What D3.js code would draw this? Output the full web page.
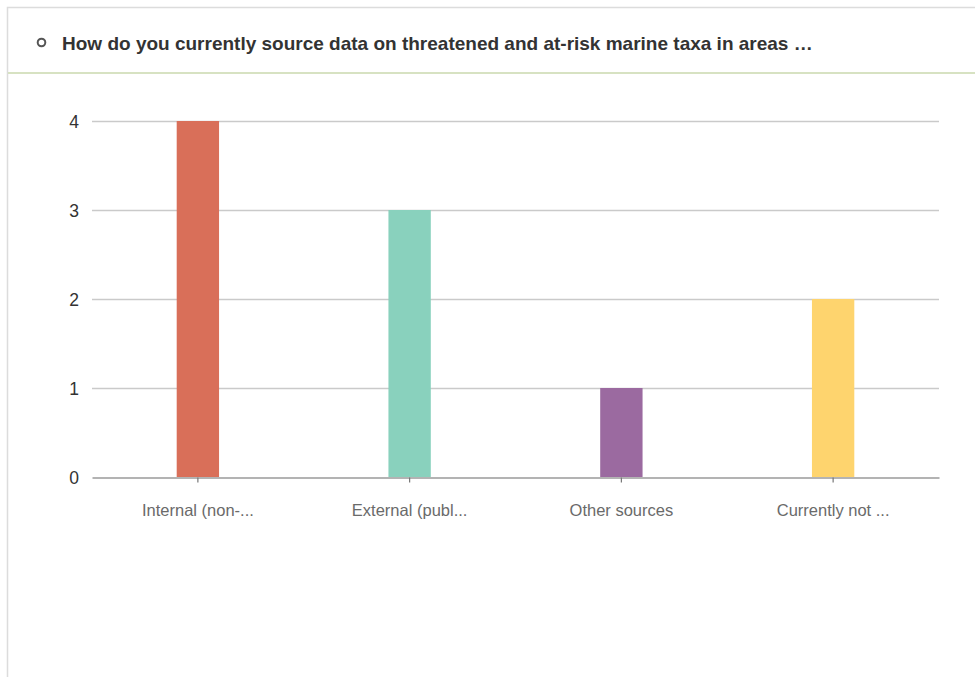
<!DOCTYPE html>
<html>
<head>
<meta charset="utf-8">
<script src="https://cdn.jsdelivr.net/npm/d3@7"></script>
<style>
  html, body { margin: 0; padding: 0; background: #fff; }
  svg { display: block; }
</style>
</head>
<body>
<svg id="chart" width="975" height="677"></svg>
<script>
// Survey responses: how threatened / at-risk marine taxa data is sourced
const title = "How do you currently source data on threatened and at-risk marine taxa in areas \u2026";
const categories = ["Internal (non-...", "External (publ...", "Other sources", "Currently not ..."];
const counts = [4, 3, 1, 2];
const colors = ["#d96f59", "#89d1bd", "#9b6aa0", "#fed46e"];
const yTicks = [0, 1, 2, 3, 4];

const svg = d3.select("#chart");
const W = 975, H = 677;
const FONT = "Liberation Sans, Arial, sans-serif";

// Panel frame
svg.append("path")
  .attr("d", `M7.5,${H} V7.5 H${W}`)
  .attr("fill", "none")
  .attr("stroke", "#dcdcdc")
  .attr("stroke-width", 1.5);

// Header separator
svg.append("line")
  .attr("x1", 8).attr("x2", W)
  .attr("y1", 73).attr("y2", 73)
  .attr("stroke", "#d7e2c2")
  .attr("stroke-width", 2);

// Header icon and title
svg.append("circle")
  .attr("cx", 41.5).attr("cy", 42.5).attr("r", 3.8)
  .attr("fill", "none")
  .attr("stroke", "#555")
  .attr("stroke-width", 2);

svg.append("text")
  .attr("x", 62).attr("y", 49.5)
  .attr("font-family", FONT)
  .attr("font-weight", "bold")
  .attr("font-size", 19)
  .attr("fill", "#333")
  .text(title);

// Scales
const x = d3.scaleBand()
  .domain(categories)
  .range([92, 939]);
const y = d3.scaleLinear()
  .domain([0, 4])
  .range([477, 121]);

// Horizontal gridlines
svg.append("g")
  .selectAll("line")
  .data(yTicks.filter(d => d > 0))
  .join("line")
  .attr("x1", 92).attr("x2", 939)
  .attr("y1", d => y(d) + 0.5).attr("y2", d => y(d) + 0.5)
  .attr("stroke", "#cacaca")
  .attr("stroke-width", 1.5);

// Bars
const barW = x.bandwidth() * 0.2;
svg.append("g")
  .selectAll("rect")
  .data(categories.map((c, i) => ({ c, v: counts[i], col: colors[i] })))
  .join("rect")
  .attr("x", d => x(d.c) + x.bandwidth() / 2 - barW / 2)
  .attr("y", d => y(d.v))
  .attr("width", barW)
  .attr("height", d => y(0) - y(d.v))
  .attr("fill", d => d.col);

// Y axis labels
const yAxis = svg.append("g")
  .attr("transform", "translate(79,0)")
  .call(d3.axisLeft(y).tickValues(yTicks).tickSize(0).tickPadding(0).tickFormat(d3.format("d")));
yAxis.select(".domain").remove();
yAxis.selectAll("text")
  .attr("font-family", FONT)
  .attr("font-size", 17.5)
  .attr("fill", "#333")
  .attr("dy", "0.36em");

// X axis baseline, ticks and labels
const xAxis = svg.append("g")
  .attr("transform", "translate(0,477.5)")
  .call(d3.axisBottom(x).tickSize(5).tickPadding(22).tickSizeOuter(0));
xAxis.select(".domain").attr("stroke", "#9a9a9a").attr("stroke-width", 1.5);
xAxis.selectAll(".tick line").attr("stroke", "#777").attr("stroke-width", 1.2);
xAxis.selectAll("text")
  .attr("font-family", FONT)
  .attr("font-size", 16.5)
  .attr("fill", "#6a6a6a");
</script>
</body>
</html>
